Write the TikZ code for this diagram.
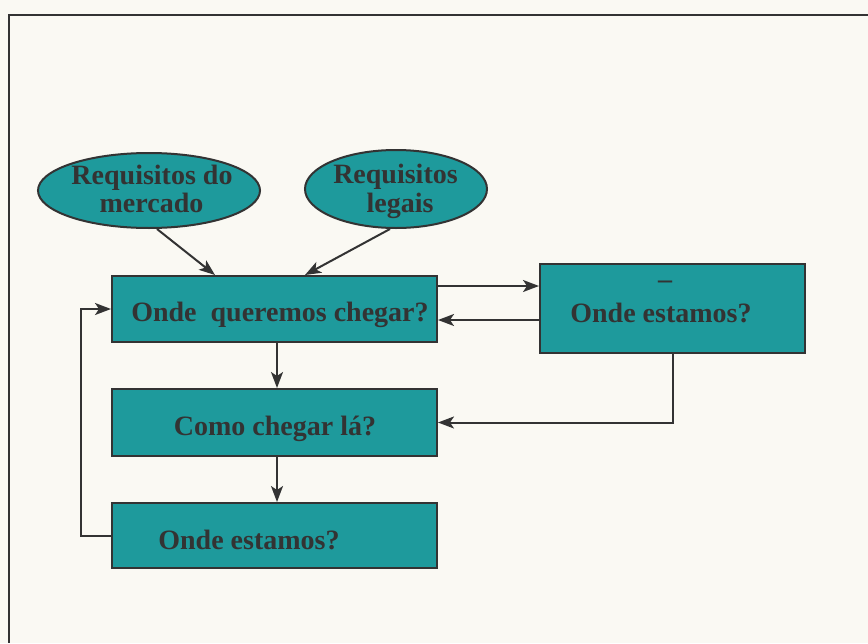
\documentclass[tikz,border=0pt]{standalone}
\usepackage{fontspec}
\setmainfont{Liberation Serif}
\usetikzlibrary{arrows.meta,shapes.geometric,calc}
\definecolor{tealfill}{HTML}{1E9A9C}
\definecolor{ink}{HTML}{333333}
\definecolor{paper}{HTML}{FAF9F3}
\begin{document}
\begin{tikzpicture}[x=1pt,y=-1pt,
  box/.style={draw=ink, line width=2pt, fill=tealfill, minimum width=325pt, inner sep=0pt},
  oval/.style={ellipse, draw=ink, line width=2pt, fill=tealfill, inner sep=0pt},
  txt/.style={font=\bfseries\fontsize{28}{30}\selectfont, text=ink, anchor=base, inner sep=0pt},
  link/.style={draw=ink, line width=2pt},
  arr/.style={link, -{Stealth[length=16pt,width=12pt,inset=4pt]}}]

% page and frame
\fill[paper] (0,0) rectangle (868,643);
\useasboundingbox (0,0) rectangle (868,643);
\draw[ink, line width=2.5pt] (868,15) -- (9,15) -- (9,643);

% boxes
\node[box, minimum height=66pt] (b1) at (274.5,309) {};
\node[box, minimum height=67pt] (b2) at (274.5,422.5) {};
\node[box, minimum height=65pt] (b3) at (274.5,535.5) {};
\node[box, minimum width=265pt, minimum height=89pt] (r) at (672.5,308.5) {};

% ellipses
\node[oval, minimum width=222pt, minimum height=75pt] (e1) at (149,190.5) {};
\node[oval, minimum width=182pt, minimum height=78pt] (e2) at (396,189) {};

% labels
\node[txt] (t1) at ($(b1.center)+(5.5,12)$) {Onde\ \ queremos chegar?};
\node[txt] (t2) at ($(b2.center)+(0.5,12.5)$) {Como chegar lá?};
\node[txt] (t3) at ($(b3.center)+(-25.5,13.5)$) {Onde estamos?};
\node[txt, anchor=center] (rd) at (665,285) {–};
\node[txt] (rt) at (661,322) {Onde estamos?};
\node[txt] (e1a) at (152,184) {Requisitos do};
\node[txt] (e1b) at (151.5,212) {mercado};
\node[txt] (e2a) at (395.5,183) {Requisitos};
\node[txt] (e2b) at (400,212) {legais};

% connectors
\draw[arr] ([xshift=8pt]e1.south) -- ([xshift=-59.5pt]b1.north);
\draw[arr] ([xshift=-6pt]e2.south) -- ([xshift=30.5pt]b1.north);
\draw[arr] ([yshift=23pt]b1.east) -- ([yshift=23pt]b1.east -| r.west);
\draw[arr] ([yshift=-11.5pt]r.west) -- ([yshift=-11.5pt]r.west -| b1.east);
\draw[arr] (r.south) |- (b2.east);
\draw[arr] ([xshift=2.5pt]b1.south) -- ([xshift=2.5pt]b2.north);
\draw[arr] ([xshift=2.5pt]b2.south) -- ([xshift=2.5pt]b3.north);
\draw[arr] (b3.west) -- ++(-30,0) |- (b1.west);
\end{tikzpicture}
\end{document}
